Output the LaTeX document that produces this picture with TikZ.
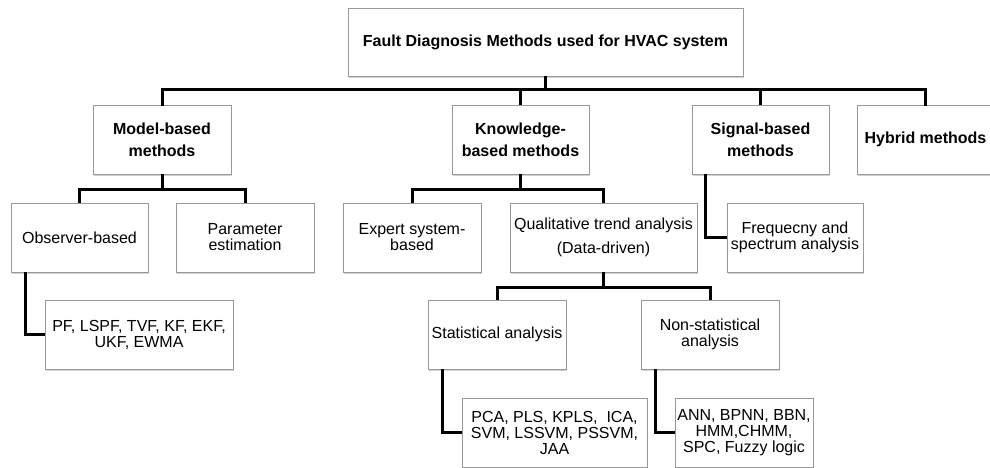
\documentclass[tikz,border=0pt]{standalone}
\usepackage{fontspec}
\setmainfont{Liberation Sans}
\usetikzlibrary{shadows}
\begin{document}
\begin{tikzpicture}[x=1pt,y=-1pt,
  box/.style={draw=black!40, line width=0.8pt, fill=white, inner sep=0pt,
    align=center, anchor=center,
    font=\fontsize{16}{16}\selectfont,
    drop shadow={shadow xshift=1.2pt, shadow yshift=-1.6pt, fill=black!30, opacity=0.6}},
  headbox/.style={box, font=\fontsize{16}{22}\selectfont\bfseries},
  conn/.style={draw=black, line width=3pt}]
\useasboundingbox (0,0) rectangle (990,468);

% root
\node[headbox, minimum width=395pt, minimum height=68pt] (title) at (545.5,42)
  {Fault Diagnosis Methods used for HVAC system};

% first level
\node[headbox, minimum width=138pt, minimum height=69pt] (model) at (162,139.5) {Model-based\\methods};
\node[headbox, minimum width=137pt, minimum height=69pt] (know) at (520.5,139.5) {Knowledge-\\based methods};
\node[headbox, minimum width=137pt, minimum height=69pt] (signal) at (760.5,139.5) {Signal-based\\methods};
\node[headbox, minimum width=137pt, minimum height=69pt] (hybrid) at (925.5,139.5) {Hybrid methods};

% second level
\node[box, minimum width=137pt, minimum height=69pt] (observer) at (79.5,237.5) {Observer-based};
\node[box, minimum width=138pt, minimum height=69pt] (param) at (245,237.5) {Parameter\\estimation};
\node[box, minimum width=138pt, minimum height=69pt] (expert) at (412,237.5) {Expert system-\\based};
\node[box, minimum width=187pt, minimum height=69pt, font=\fontsize{16}{24}\selectfont] (qual) at (603.5,237.5) {Qualitative trend analysis\\(Data-driven)};
\node[box, minimum width=136pt, minimum height=69pt] (freq) at (795,237.5) {Frequecny and\\spectrum analysis};

% third level
\node[box, minimum width=188pt, minimum height=69pt] (pf) at (139,334.5) {PF, LSPF, TVF, KF, EKF,\\UKF, EWMA};
\node[box, minimum width=138pt, minimum height=69pt] (stat) at (497,334.5) {Statistical analysis};
\node[box, minimum width=138pt, minimum height=69pt] (nonstat) at (710,334.5) {Non-statistical\\analysis};

% leaves
\node[box, minimum width=185pt, minimum height=69pt] (pca) at (554.5,432.5) {PCA, PLS, KPLS,\ \ ICA,\\SVM, LSSVM, PSSVM,\\JAA};
\node[box, minimum width=138pt, minimum height=69pt] (ann) at (744,432.5) {ANN, BPNN, BBN,\\HMM,CHMM,\\SPC, Fuzzy logic};

% root bus
\coordinate (bus) at (0,90);
\draw[conn] (title.south) -- (title.south |- bus);
\draw[conn, line cap=rect] (model.north) |- (bus -| hybrid.north) -- (hybrid.north);
\draw[conn] (know.north) -- (know.north |- bus);
\draw[conn] (signal.north) -- (signal.north |- bus);

% model-based branch
\coordinate (mb) at (162,189);
\draw[conn] (model.south) -- (mb);
\draw[conn] (observer.north) |- (mb) -| (param.north);

% knowledge-based branch
\coordinate (kb) at (520.5,189);
\draw[conn] (know.south) -- (kb);
\draw[conn] (expert.north) |- (kb) -| (qual.north);

% data-driven branch
\coordinate (qb) at (603.5,287);
\draw[conn] (qual.south) -- (qb);
\draw[conn] (stat.north) |- (qb) -| (nonstat.north);

% side connectors
\draw[conn] ([xshift=-55.5pt]signal.south) |- (freq.west);
\draw[conn] ([xshift=-54.5pt]observer.south) |- (pf.west);
\draw[conn] ([xshift=-55pt]stat.south) |- (pca.west);
\draw[conn] ([xshift=-55pt]nonstat.south) |- (ann.west);
\end{tikzpicture}
\end{document}
